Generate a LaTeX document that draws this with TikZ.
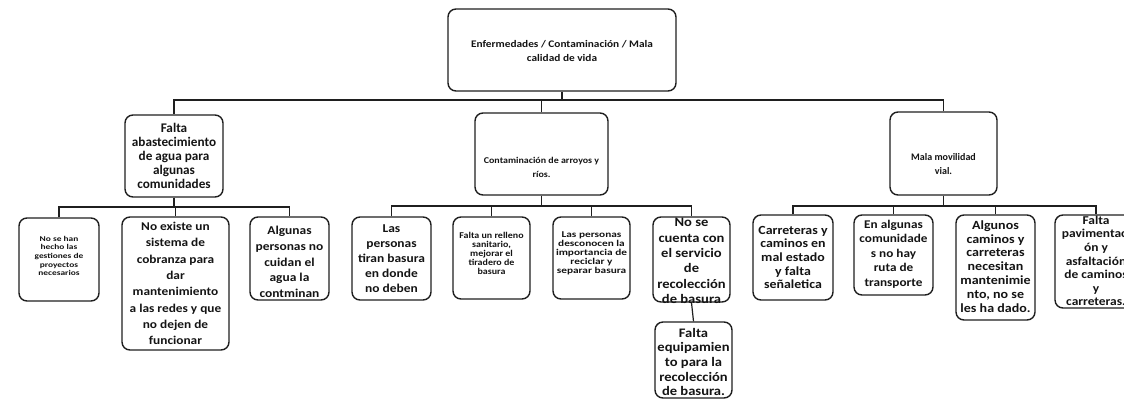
\documentclass[tikz,border=0pt]{standalone}
\usepackage{fontspec}
\setmainfont{Carlito}
\newfontfamily\fa{Carlito}
\newfontfamily\fb[FakeStretch=1.12]{Carlito}
\newfontfamily\fc[FakeStretch=1.27]{Carlito}
\newcommand\fz[2]{\bfseries\fontsize{#1}{#2}\selectfont}
\tikzset{
  box/.style={draw=black!88, line width=1.4pt, rounded corners=8pt, inner sep=0pt},
  txt/.style={align=center, inner sep=0pt, text=black!92},
  wire/.style={draw=black!88, line width=1.2pt}
}
\begin{document}
\begin{tikzpicture}[x=1pt,y=-1pt]
\useasboundingbox (0,0) rectangle (1124,400);
\fill[white] (0,0) rectangle (1124,400);
% level 0
\node[box, minimum width=228, minimum height=82] (root) at (562,50) {};
\node[txt, font=\fb\fz{10.1}{14.3}] (root-t) at (562,51) {Enfermedades / Contaminación / Mala\\calidad de vida};
% level 1
\node[box, minimum width=98, minimum height=82] (a) at (174,156) {};
\node[txt, font=\fa\fz{13.2}{14}] (a-t) at (174,156) {Falta\\abastecimiento\\de agua para\\algunas\\comunidades};
\node[box, minimum width=133, minimum height=82] (b) at (541.5,154) {};
\node[txt, font=\fb\fz{8.9}{14}] (b-t) at (541.5,167) {Contaminación de arroyos y\\ríos.};
\node[box, minimum width=107, minimum height=83] (c) at (943.5,153.5) {};
\node[txt, font=\fa\fz{10}{14.3}] (c-t) at (943.5,164) {Mala movilidad\\vial.};
% level 2, left
\node[box, minimum width=80, minimum height=83] (a1) at (59,259.5) {};
\node[txt, font=\fc\fz{7.4}{8.7}] (a1-t) at (59,256) {No se han\\hecho las\\gestiones de\\proyectos\\necesarios};
\node[box, minimum width=107, minimum height=133] (a2) at (175.5,283.5) {};
\node[txt, font=\fb\fz{11.9}{16.3}] (a2-t) at (175.5,283.5) {No existe un\\sistema de\\cobranza para\\dar\\mantenimiento\\a las redes y que\\no dejen de\\funcionar};
\node[box, minimum width=79, minimum height=83] (a3) at (289.5,258.5) {};
\node[txt, font=\fb\fz{12}{15.7}] (a3-t) at (289.5,262) {Algunas\\personas no\\cuidan el\\agua la\\contminan};
% level 2, middle
\node[box, minimum width=79, minimum height=83] (b1) at (391.5,258.5) {};
\node[txt, font=\fb\fz{12}{15.2}] (b1-t) at (391.5,258.7) {Las\\personas\\tiran basura\\en donde\\no deben};
\node[box, minimum width=77, minimum height=82] (b2) at (491.5,258) {};
\node[txt, font=\fb\fz{8.9}{9}] (b2-t) at (491.5,253) {Falta un relleno\\sanitario,\\mejorar el\\tiradero de\\basura};
\node[box, minimum width=77, minimum height=82] (b3) at (591.5,258) {};
\node[txt, font=\fc\fz{8.9}{9}] (b3-t) at (591.5,253) {Las personas\\desconocen la\\importancia de\\reciclar y\\separar basura};
\node[box, minimum width=77, minimum height=85] (b4) at (691.5,259.5) {};
\node[txt, font=\fb\fz{13}{15.3}] (b4-t) at (691.5,261) {No se\\cuenta con\\el servicio\\de\\recolección\\de basura};
\node[box, minimum width=77, minimum height=76] (b5) at (693.5,360) {};
\node[txt, font=\fb\fz{13}{14.6}] (b5-t) at (693.5,362) {Falta\\equipamien\\to para la\\recolección\\de basura.};
% level 2, right
\node[box, minimum width=80, minimum height=85] (c1) at (793,257.5) {};
\node[txt, font=\fb\fz{12.4}{13.7}] (c1-t) at (793,257.5) {Carreteras y\\caminos en\\mal estado\\y falta\\señaletica};
\node[box, minimum width=79, minimum height=80] (c2) at (893.5,255) {};
\node[txt, font=\fb\fz{11.8}{14.4}] (c2-t) at (893.5,254) {En algunas\\comunidade\\s no hay\\ruta de\\transporte};
\node[box, minimum width=79, minimum height=105] (c3) at (995.5,267.5) {};
\node[txt, font=\fb\fz{12.5}{13.9}] (c3-t) at (995.5,266.5) {Algunos\\caminos y\\carreteras\\necesitan\\mantenimie\\nto, no se\\les ha dado.};
\node[box, minimum width=82, minimum height=93] (c4) at (1096,261.5) {};
\node[txt, font=\fb\fz{12}{13.6}] (c4-t) at (1096,261) {Falta\\pavimentaci\\ón y\\asfaltación\\de caminos\\y\\carreteras.};
% connectors
\coordinate (j0) at (562,100);
\coordinate (j1) at (174,207);
\coordinate (j2) at (541.5,206);
\coordinate (j3) at (943.5,206);
\draw[wire] (root.south) -- (j0);
\draw[wire] (a.north) |- (j0) -| (c.north);
\draw[wire] (b.north) -- (b.north |- j0);
\draw[wire] (a.south) -- (j1);
\draw[wire] (a1.north) |- (j1) -| (a3.north);
\draw[wire] (a2.north) -- (a2.north |- j1);
\draw[wire] (b.south) -- (j2);
\draw[wire] (b1.north) |- (j2) -| (b4.north);
\draw[wire] (b2.north) -- (b2.north |- j2);
\draw[wire] (b3.north) -- (b3.north |- j2);
\draw[wire] (b4.south) -- (b5.north);
\draw[wire] (c.south) -- (j3);
\draw[wire] (c1.north) |- (j3) -| (c4.north);
\draw[wire] (c2.north) -- (c2.north |- j3);
\draw[wire] (c3.north) -- (c3.north |- j3);
\end{tikzpicture}
\end{document}
